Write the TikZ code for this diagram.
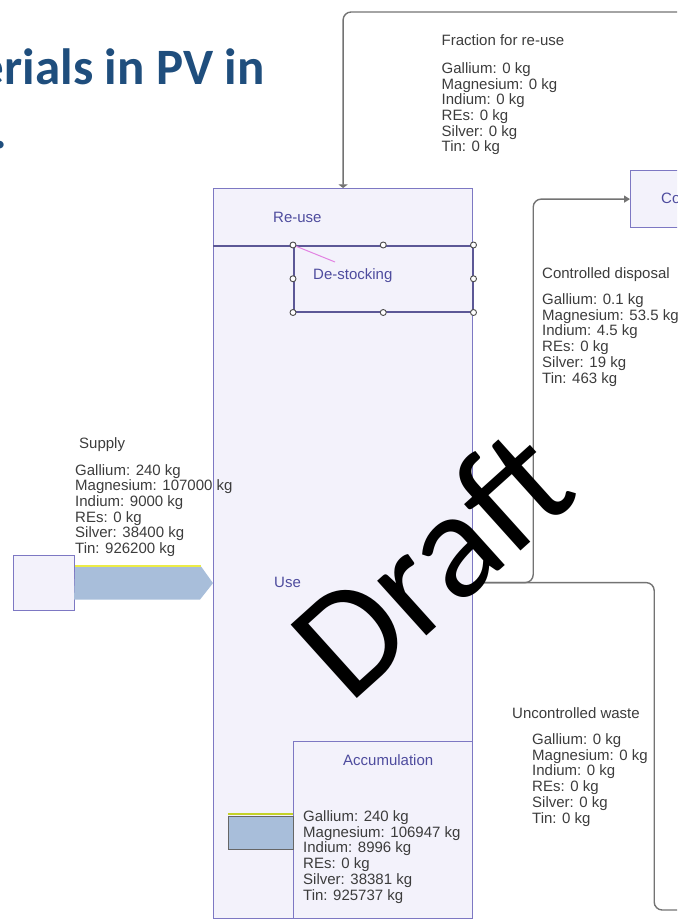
\documentclass[tikz,border=0pt]{standalone}
\usepackage{fontspec}
\setmainfont{Liberation Sans}
\newfontfamily\calfont{Carlito}
\usetikzlibrary{arrows.meta}
\usepackage{xcolor}
\definecolor{boxline}{RGB}{125,120,195}
\definecolor{boxdark}{RGB}{92,88,150}
\definecolor{boxfill}{RGB}{243,242,251}
\definecolor{boxtext}{RGB}{78,76,158}
\definecolor{flowtext}{RGB}{60,60,60}
\definecolor{flowline}{RGB}{115,115,115}
\definecolor{flowfill}{RGB}{168,190,218}
\definecolor{supplyyellow}{RGB}{236,236,70}
\definecolor{accyellow}{RGB}{196,210,40}
\definecolor{pinkline}{RGB}{226,130,226}
\definecolor{titleblue}{RGB}{31,78,125}

\newcommand{\metals}[6]{Gallium: #1 kg\\Magnesium: #2 kg\\Indium: #3 kg\\REs: #4 kg\\Silver: #5 kg\\Tin: #6 kg}

\begin{document}
\begin{tikzpicture}[x=1pt, y=-1pt,
    every node/.style={inner sep=0pt, font=\fontsize{15}{15.7}\selectfont},
    stock/.style={draw=boxline, fill=boxfill, line width=1.2pt, anchor=north west},
    boxlabel/.style={text=boxtext, anchor=base west},
    flowlabel/.style={text=flowtext, anchor=base west, align=left},
    flow/.style={draw=flowline, line width=1.4pt, rounded corners=8pt},
    handle/.style={circle, draw=black!70, fill=white, line width=0.9pt, minimum size=6pt}]
    \useasboundingbox (0,0) rectangle (677,920);
    \clip (0,0) rectangle (677,920);
    \node[font=\calfont\bfseries\fontsize{51}{51}\selectfont, text=titleblue, anchor=base east] (title) at (265,85) {erials in PV in};
    \node[font=\calfont\bfseries\fontsize{51}{51}\selectfont, text=titleblue, anchor=base west] (title2) at (-6.5,149) {.};

    \node[stock, minimum width=259pt, minimum height=730pt] (use) at (213,188) {};
    \node[stock, minimum width=259pt, minimum height=57pt] (reuse) at (213,188) {};
    \node[stock, draw=boxdark, line width=1.5pt, minimum width=179pt, minimum height=66pt] (destock) at (293,245) {};
    \node[stock, minimum width=179pt, minimum height=177pt] (accum) at (293,741) {};
    \node[stock, minimum width=61pt, minimum height=55pt] (src) at (13,555) {};
    \node[stock, minimum width=80pt, minimum height=57pt] (co) at (630,170) {};
        \draw[draw=boxdark, line width=1.5pt] (reuse.south west) -- (reuse.south east);
        \draw[pinkline, line width=1pt] (destock.north west) -- ++(42,17);
    \foreach \a [count=\i] in {north west,north,north east,west,east,south west,south,south east}
        \node[handle] (h\i) at (destock.\a) {};

    \node[boxlabel] (reuselbl) at (273,222.5) {Re-use};
    \node[boxlabel] (destocklbl) at (313,279) {De-stocking};
    \node[boxlabel] (uselbl) at (274,587) {Use};
    \node[boxlabel] (accumlbl) at (343,765) {Accumulation};
    \node[boxlabel] (colbl) at (661,204) {Co};

    \coordinate (rfend) at (700,12);
    \coordinate (uwend) at (700,910);
        \draw[flow, -{Triangle[width=9pt,length=3.5pt]}] (rfend) -| (reuse.north);
        \draw[flow, -{Triangle[width=7pt,length=6pt]}] (use.east) ++(0,29) coordinate (cdout) -- ++(60,0) |- (co.west);
        \draw[flow] (cdout) -- ++(181,0) |- (uwend);
        \fill[flowfill] (src.east) ++(0,-16.5) -- ++(126,0) -- (src.east -| use.west) -- ++(-13,16.5) -- ++(-126,0) -- cycle;
        \draw[supplyyellow, line width=2pt] (src.east) ++(0,-17) -- ++(126,0);
        \draw[draw=black!60, line width=1pt, fill=flowfill] (accum.west) ++(-65,-14) rectangle ++(65,33);
        \draw[accyellow, line width=2pt] (accum.west) ++(-65,-16) -- ++(65,0);

    \node[flowlabel] (fruhead) at (441.5,45.5) {Fraction for re-use};
    \node[flowlabel] (frulist) at (441.5,152) {\metals{0}{0}{0}{0}{0}{0}};
    \node[flowlabel] (cdhead) at (542,278.5) {Controlled disposal};
    \node[flowlabel] (cdlist) at (542,383) {\metals{0.1}{53.5}{4.5}{0}{19}{463}};
    \node[flowlabel] (suphead) at (79,448) {Supply};
    \node[flowlabel] (suplist) at (75,553.5) {\metals{240}{107000}{9000}{0}{38400}{926200}};
    \node[flowlabel] (uwhead) at (512,718.5) {Uncontrolled waste};
    \node[flowlabel] (uwlist) at (532,823) {\metals{0}{0}{0}{0}{0}{0}};
    \node[flowlabel] (acclist) at (303,900) {\metals{240}{106947}{8996}{0}{38381}{925737}};

    \node[font=\calfont\fontsize{154}{154}\selectfont, rotate=42, anchor=base west] (draft) at (349,706) {Draft};
\end{tikzpicture}
\end{document}
